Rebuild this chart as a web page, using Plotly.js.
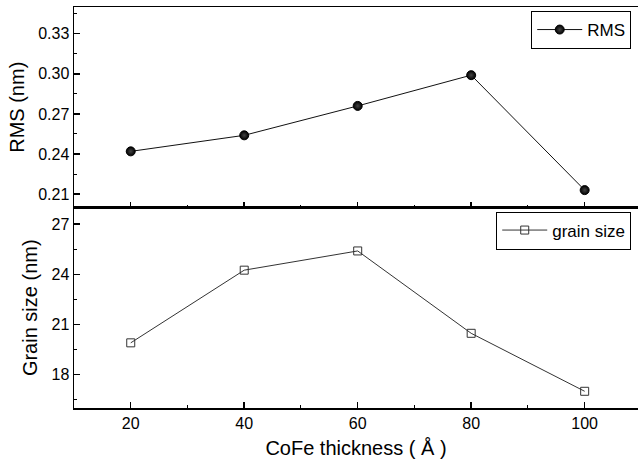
<!DOCTYPE html>
<html>
<head>
<meta charset="utf-8">
<script src="https://cdn.plot.ly/plotly-3.0.1.min.js"></script>
<style>html,body{margin:0;padding:0;background:#fff;}#chart{width:638px;height:463px;}</style>
</head>
<body>
<div id="chart"></div>
<script>
const thickness = [20, 40, 60, 80, 100];
const rmsValues = [0.242, 0.254, 0.276, 0.299, 0.213];
const grainValues = [19.9, 24.25, 25.4, 20.47, 17.0];
const xTicks = [20, 40, 60, 80, 100];
const rmsTicks = [0.21, 0.24, 0.27, 0.30, 0.33];
const grainTicks = [18, 21, 24, 27];

const fontFam = 'Liberation Sans, Arial, sans-serif';

const traces = [
  {
    x: thickness, y: rmsValues, name: 'RMS', type: 'scatter', mode: 'lines+markers',
    xaxis: 'x2', yaxis: 'y2', legend: 'legend',
    line: {color: '#111', width: 1},
    marker: {symbol: 'circle', size: 9, color: '#000', gradient: {type: 'radial', color: '#444'}, line: {color: '#000', width: 1}}
  },
  {
    x: thickness, y: grainValues, name: 'grain size', type: 'scatter', mode: 'lines+markers',
    xaxis: 'x', yaxis: 'y', legend: 'legend2',
    line: {color: '#333', width: 1},
    marker: {symbol: 'square-open', size: 8, color: '#333', line: {width: 1}}
  }
];

const axCommon = {
  showline: true, linecolor: '#000', linewidth: 1.5, mirror: true,
  ticks: 'inside', ticklen: 6, tickwidth: 1.5, tickcolor: '#000',
  showgrid: false, zeroline: false,
  tickfont: {family: fontFam, size: 16, color: '#000'}
};

const titleFont = {family: fontFam, size: 20, color: '#000'};

const layout = {
  width: 638, height: 463,
  margin: {l: 74, r: 0, t: 7, b: 55},
  paper_bgcolor: '#fff', plot_bgcolor: '#fff',
  font: {family: fontFam, color: '#000'},
  xaxis: Object.assign({}, axCommon, {
    domain: [0, 1], anchor: 'y', range: [10, 109.4],
    tickmode: 'array', tickvals: xTicks, ticktext: xTicks.map(String),
    minor: {ticks: 'inside', ticklen: 3, tickwidth: 1, tickcolor: '#000', dtick: 10, tick0: 10},
    title: {text: 'CoFe thickness ( Å )', font: titleFont, standoff: 10}
  }),
  xaxis2: Object.assign({}, axCommon, {
    domain: [0, 1], anchor: 'y2', range: [10, 109.4], matches: 'x',
    linewidth: 1,
    tickmode: 'array', tickvals: xTicks, showticklabels: false,
    minor: {ticks: 'inside', ticklen: 3, tickwidth: 1, tickcolor: '#000', dtick: 10, tick0: 10}
  }),
  yaxis: Object.assign({}, axCommon, {
    domain: [0, 0.5], anchor: 'x', range: [16, 28],
    tickmode: 'array', tickvals: grainTicks, ticktext: grainTicks.map(String),
    minor: {ticks: 'inside', ticklen: 3, tickwidth: 1, tickcolor: '#000', dtick: 1.5, tick0: 16.5},
    title: {text: 'Grain size (nm)', font: titleFont, standoff: 8}
  }),
  yaxis2: Object.assign({}, axCommon, {
    domain: [0.5, 1], anchor: 'x2', range: [0.2, 0.35],
    tickmode: 'array', tickvals: rmsTicks, ticktext: rmsTicks.map(v => v.toFixed(2)),
    minor: {ticks: 'inside', ticklen: 3, tickwidth: 1, tickcolor: '#000', dtick: 0.015, tick0: 0.195},
    title: {text: 'RMS (nm)', font: titleFont, standoff: 8}
  }),
  legend: {
    x: 0.988, y: 0.99, xanchor: 'right', yanchor: 'top',
    bordercolor: '#000', borderwidth: 1, bgcolor: '#fff',
    font: {family: fontFam, size: 17, color: '#000'},
    itemwidth: 45, tracegroupgap: 0
  },
  legend2: {
    x: 0.988, y: 0.49, xanchor: 'right', yanchor: 'top',
    bordercolor: '#000', borderwidth: 1, bgcolor: '#fff',
    font: {family: fontFam, size: 17, color: '#000'},
    itemwidth: 45, tracegroupgap: 0
  },
  showlegend: true
};

Plotly.newPlot('chart', traces, layout, {displayModeBar: false, staticPlot: true});
</script>
</body>
</html>
